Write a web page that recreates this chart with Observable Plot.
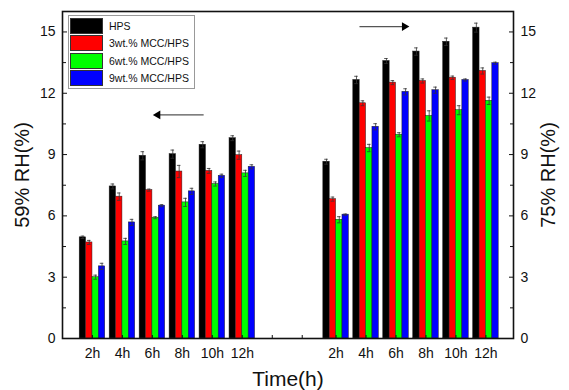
<!DOCTYPE html>
<html>
<head>
<meta charset="utf-8">
<script src="https://cdn.jsdelivr.net/npm/d3@7"></script>
<script src="https://cdn.jsdelivr.net/npm/@observablehq/plot@0.6"></script>
<style>
  body { margin: 0; background: #fff; }
  #wrap { position: relative; width: 569px; height: 390px; font-family: Arial, "Liberation Sans", sans-serif; }
  #legend { position: absolute; left: 68px; top: 15px; width: 124px; border: 1px solid #999; background: #fff; padding: 1px 0 1px 1px; }
  .row { display: flex; align-items: center; height: 17.5px; }
  .sw { width: 31px; height: 14px; border: 1px solid #333; margin-right: 6px; }
  .lab { font-size: 10.5px; color: #111; }
</style>
</head>
<body>
<div id="wrap"></div>
<script>
const times = ["2h", "4h", "6h", "8h", "10h", "12h"];
const series = ["HPS", "3wt.% MCC/HPS", "6wt.% MCC/HPS", "9wt.% MCC/HPS"];
const colors = ["#000000", "#ff0000", "#00ff00", "#0000ff"];

// 59% RH (left panel)
const rh59_HPS   = [4.95, 7.44, 8.94, 9.02, 9.48, 9.80];
const rh59_3wt   = [4.70, 6.94, 7.26, 8.17, 8.20, 8.97];
const rh59_6wt   = [3.00, 4.75, 5.91, 6.66, 7.56, 8.08];
const rh59_9wt   = [3.53, 5.68, 6.50, 7.20, 7.96, 8.40];
const rh59_HPS_err = [0.06, 0.12, 0.20, 0.20, 0.15, 0.12];
const rh59_3wt_err = [0.10, 0.18, 0.05, 0.30, 0.12, 0.20];
const rh59_6wt_err = [0.10, 0.15, 0.05, 0.20, 0.10, 0.15];
const rh59_9wt_err = [0.15, 0.15, 0.05, 0.15, 0.08, 0.10];

// 75% RH (right panel)
const rh75_HPS   = [8.65, 12.65, 13.58, 14.04, 14.52, 15.21];
const rh75_3wt   = [6.82, 11.51, 12.52, 12.60, 12.76, 13.09];
const rh75_6wt   = [5.81, 9.32, 9.97, 10.89, 11.17, 11.63];
const rh75_9wt   = [6.06, 10.36, 12.07, 12.15, 12.65, 13.47];
const rh75_HPS_err = [0.12, 0.18, 0.12, 0.18, 0.18, 0.22];
const rh75_3wt_err = [0.10, 0.12, 0.10, 0.10, 0.08, 0.15];
const rh75_6wt_err = [0.15, 0.18, 0.10, 0.25, 0.22, 0.18];
const rh75_9wt_err = [0.03, 0.15, 0.15, 0.15, 0.05, 0.05];

const yTicks = [0, 3, 6, 9, 12, 15];
const yMinor = [1.5, 4.5, 7.5, 10.5, 13.5];

// Build table
const panels = [
  {vals: [rh59_HPS, rh59_3wt, rh59_6wt, rh59_9wt], errs: [rh59_HPS_err, rh59_3wt_err, rh59_6wt_err, rh59_9wt_err], start: 1},
  {vals: [rh75_HPS, rh75_3wt, rh75_6wt, rh75_9wt], errs: [rh75_HPS_err, rh75_3wt_err, rh75_6wt_err, rh75_9wt_err], start: 9.13}
];
const bw = 0.213;
const rows = [];
const groups = [];
panels.forEach(p => {
  times.forEach((t, ti) => {
    const c = p.start + ti;
    groups.push({c, t});
    series.forEach((s, si) => {
      const x1 = c + (si - 2) * bw;
      rows.push({x1, x2: x1 + bw, xc: x1 + bw / 2, v: p.vals[si][ti], e: p.errs[si][ti], color: colors[si]});
    });
  });
});
const xTicks = groups.map(g => g.c).concat([7, 8]);

const arrows = [
  {x1: 4.71, x2: 3.18, y: 10.94},
  {x1: 9.91, x2: 11.41, y: 15.26}
];

const font = "Arial, 'Liberation Sans', sans-serif";
const chart = Plot.plot({
  width: 569,
  height: 390,
  marginLeft: 62,
  marginRight: 56,
  marginTop: 11,
  marginBottom: 52,
  style: {fontFamily: font, background: "#fff", color: "#111"},
  x: {domain: [0, 15.05], axis: null},
  y: {domain: [0, 16], axis: null},
  marks: [
    Plot.rectY(rows, {x1: "x1", x2: "x2", y1: 0, y2: "v", fill: "color", stroke: "#222", strokeWidth: 0.5}),
    Plot.ruleX(rows, {x: "xc", y1: d => d.v - d.e, y2: d => d.v + d.e, stroke: "#333", strokeWidth: 0.8}),
    Plot.ruleY(rows, {y: d => d.v + d.e, x1: d => d.xc - 0.06, x2: d => d.xc + 0.06, stroke: "#333", strokeWidth: 0.8}),
    Plot.ruleY(rows, {y: d => d.v - d.e, x1: d => d.xc - 0.06, x2: d => d.xc + 0.06, stroke: "#333", strokeWidth: 0.8}),
    // arrows
    Plot.link(arrows, {x1: "x1", x2: "x2", y1: "y", y2: "y", stroke: "#555", strokeWidth: 1.2}),
    Plot.dot(arrows, {x: "x2", y: "y", symbol: "triangle", r: 3.2, fill: "#000", stroke: "none", rotate: d => d.x2 > d.x1 ? 90 : -90}),
    // axes
    Plot.axisY({anchor: "left", ticks: yTicks, tickSize: -5, tickPadding: 12, fontSize: 14, label: null, stroke: "#111"}),
    Plot.axisY({anchor: "left", ticks: yMinor, tickSize: -4, text: null, label: null}),
    Plot.axisY({anchor: "right", ticks: yTicks, tickSize: -5, tickPadding: 12, fontSize: 14, label: null}),
    Plot.axisY({anchor: "right", ticks: yMinor, tickSize: -4, text: null, label: null}),
    Plot.axisX({anchor: "bottom", ticks: xTicks, tickSize: -3, text: null, label: null}),
    Plot.text(groups, {x: "c", text: "t", frameAnchor: "bottom", dy: 15, fontSize: 14, lineAnchor: "middle"}),
    Plot.frame({stroke: "#111", strokeWidth: 1.6}),
    Plot.text(["59% RH(%)"], {frameAnchor: "left", dx: -40, rotate: -90, fontSize: 20, textAnchor: "middle", lineAnchor: "middle"}),
    Plot.text(["75% RH(%)"], {frameAnchor: "right", dx: 35, rotate: -90, fontSize: 20, textAnchor: "middle", lineAnchor: "middle"}),
    Plot.text(["Time(h)"], {frameAnchor: "bottom", dy: 41, fontSize: 21, lineAnchor: "middle"})
  ]
});

const wrap = document.getElementById("wrap");
wrap.appendChild(chart);
const leg = document.createElement("div");
leg.id = "legend";
series.forEach((s, i) => {
  const r = document.createElement("div");
  r.className = "row";
  r.innerHTML = `<div class="sw" style="background:${colors[i]}"></div><div class="lab">${s}</div>`;
  leg.appendChild(r);
});
wrap.appendChild(leg);
</script>
</body>
</html>
